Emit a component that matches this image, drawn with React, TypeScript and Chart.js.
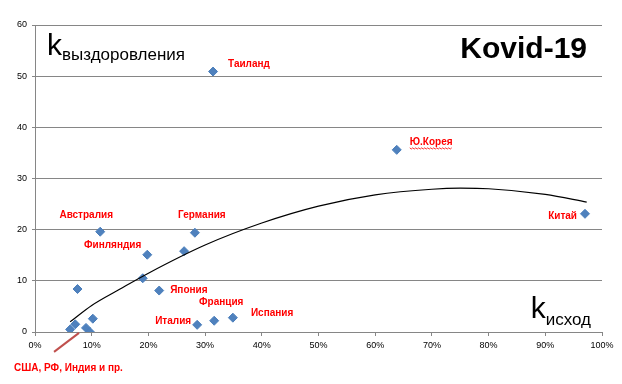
import { useEffect, useRef } from 'react';
import { Chart, registerables } from 'chart.js';

Chart.register(...registerables);

// ---- data ----
const countryNames = ['Таиланд', 'Ю.Корея', 'Китай', 'Австралия', 'Германия', 'Финляндия', '', '', 'Япония', '', '', 'Испания', 'Франция', 'Италия', '', '', '', ''];
const outcomeShare = [31.4, 63.8, 97.0, 11.5, 28.2, 19.8, 26.3, 19.0, 21.9, 7.5, 10.2, 34.9, 31.6, 28.6, 7.1, 6.2, 9.0, 9.7];
const recoveryCoef = [50.9, 35.6, 23.1, 19.6, 19.4, 15.1, 15.8, 10.5, 8.1, 8.4, 2.6, 2.8, 2.2, 1.4, 1.5, 0.5, 0.8, 0.0];
const trendX = [6.2, 10, 15, 20, 30, 40, 50, 60, 70, 75, 80, 90, 97.3];
const trendY = [2.0, 5.2, 8.4, 11.5, 17.0, 21.3, 24.6, 26.8, 27.9, 28.1, 28.0, 26.9, 25.4];
const groupLabel = 'США, РФ, Индия и пр.';
const groupAnchorIndex = 16;
const titleText = 'Kovid-19';
const yAxisMain = 'k';
const yAxisSub = 'выздоровления';
const xAxisMain = 'k';
const xAxisSub = 'исход';
const xMin = 0, xMax = 100, xStep = 10;
const yMin = 0, yMax = 60, yStep = 10;

// label placement (pixel offsets from each point) — style only
const labelPlacement: Record<number, { dx: number; dy: number; align: CanvasTextAlign; wavy?: boolean }> = {
  0: { dx: 15, dy: -7, align: 'left' },
  1: { dx: 13, dy: -8, align: 'left', wavy: true },
  2: { dx: -8, dy: 2, align: 'right' },
  3: { dx: -14, dy: -16, align: 'center' },
  4: { dx: 7, dy: -17, align: 'center' },
  5: { dx: -6, dy: -9, align: 'right' },
  8: { dx: 11, dy: 0, align: 'left' },
  11: { dx: 18, dy: -4, align: 'left' },
  12: { dx: 7, dy: -18, align: 'center' },
  13: { dx: -6, dy: -4, align: 'right' },
};

const FONT = '"Liberation Sans", Arial, sans-serif';

const annotationPlugin = {
  id: 'annot',
  afterDatasetsDraw(chart: any) {
    const ctx: CanvasRenderingContext2D = chart.ctx;
    const meta = chart.getDatasetMeta(0);
    const area = chart.chartArea;
    ctx.save();
    // country labels
    ctx.font = `bold 10px ${FONT}`;
    ctx.fillStyle = '#FF0000';
    ctx.textBaseline = 'middle';
    Object.keys(labelPlacement).forEach((k) => {
      const i = Number(k);
      const p = meta.data[i];
      const pl = labelPlacement[i];
      const tx = p.x + pl.dx;
      const ty = p.y + pl.dy;
      ctx.textAlign = pl.align;
      ctx.fillText(countryNames[i], tx, ty);
      if (pl.wavy) {
        const w = ctx.measureText(countryNames[i]).width;
        const x0 = pl.align === 'left' ? tx : pl.align === 'right' ? tx - w : tx - w / 2;
        ctx.beginPath();
        ctx.strokeStyle = '#FF0000';
        ctx.lineWidth = 0.8;
        let up = true;
        for (let x = x0; x <= x0 + w; x += 1.5) {
          const y = ty + 6 + (up ? 0 : 1.2);
          if (x === x0) ctx.moveTo(x, y); else ctx.lineTo(x, y);
          up = !up;
        }
        ctx.stroke();
      }
    });
    // group label with arrow
    const g = meta.data[groupAnchorIndex];
    ctx.strokeStyle = '#C0504D';
    ctx.lineWidth = 2;
    ctx.beginPath();
    ctx.moveTo(g.x - 32, g.y + 24);
    ctx.lineTo(g.x - 7, g.y + 5);
    ctx.stroke();
    ctx.textAlign = 'left';
    ctx.fillStyle = '#FF0000';
    ctx.fillText(groupLabel, g.x - 72, g.y + 40);

    // title
    ctx.fillStyle = '#000';
    ctx.textBaseline = 'alphabetic';
    ctx.textAlign = 'right';
    ctx.font = `bold 30px ${FONT}`;
    ctx.fillText(titleText, area.right - 15, area.top + 33);

    // y axis name
    ctx.textAlign = 'left';
    ctx.font = `30px ${FONT}`;
    ctx.fillText(yAxisMain, area.left + 12, area.top + 30);
    const kw = ctx.measureText(yAxisMain).width;
    ctx.font = `17px ${FONT}`;
    ctx.fillText(yAxisSub, area.left + 12 + kw, area.top + 35);

    // x axis name
    ctx.font = `17px ${FONT}`;
    const sw = ctx.measureText(xAxisSub).width;
    ctx.font = `30px ${FONT}`;
    const kw2 = ctx.measureText(xAxisMain).width;
    const xs = area.right - 11 - sw - kw2;
    ctx.fillText(xAxisMain, xs, area.bottom - 14);
    ctx.font = `17px ${FONT}`;
    ctx.fillText(xAxisSub, xs + kw2, area.bottom - 7);
    ctx.restore();
  },
};

export default function App() {
  const ref = useRef<HTMLCanvasElement>(null);
  useEffect(() => {
    if (!ref.current) return;
    const points = outcomeShare.map((x, i) => ({ x, y: recoveryCoef[i] }));
    const trend = trendX.map((x, i) => ({ x, y: trendY[i] }));
    const chart = new Chart(ref.current, {
      type: 'scatter',
      data: {
        datasets: [
          {
            label: 'countries',
            data: points,
            pointStyle: 'rectRot',
            pointRadius: 4.5,
            backgroundColor: '#4F81BD',
            borderColor: '#4A7EBB',
            borderWidth: 1,
            order: 2,
          },
          {
            label: 'trend',
            data: trend,
            showLine: true,
            pointRadius: 0,
            borderColor: '#000',
            borderWidth: 1.2,
            cubicInterpolationMode: 'monotone',
            fill: false,
            order: 1,
          } as any,
        ],
      },
      options: {
        animation: false,
        responsive: false,
        devicePixelRatio: 1,
        layout: { padding: { top: 25, right: 20, left: 0, bottom: 0 } },
        plugins: { legend: { display: false }, tooltip: { enabled: false } },
        scales: {
          x: {
            type: 'linear',
            min: xMin,
            max: xMax,
            ticks: {
              stepSize: xStep,
              callback: (v: any) => `${v}%`,
              font: { family: FONT, size: 9 },
              color: '#000',
              padding: 4,
              maxRotation: 0,
            },
            grid: { drawOnChartArea: false, drawTicks: true, tickLength: 4, color: '#868686' },
            border: { color: '#868686', width: 1 },
            afterFit: (s: any) => { s.height = 52; },
          },
          y: {
            type: 'linear',
            min: yMin,
            max: yMax,
            ticks: {
              stepSize: yStep,
              font: { family: FONT, size: 9 },
              color: '#000',
              padding: 5,
            },
            grid: { color: '#868686', tickLength: 3, drawTicks: true },
            border: { color: '#868686', width: 1 },
            afterFit: (s: any) => { s.width = 35; },
          },
        },
      },
      plugins: [annotationPlugin],
    });
    return () => chart.destroy();
  }, []);
  return (
    <div style={{ position: 'fixed', left: 0, top: 0, width: 622, height: 384, background: '#fff' }}>
      <canvas ref={ref} width={622} height={384} />
    </div>
  );
}
